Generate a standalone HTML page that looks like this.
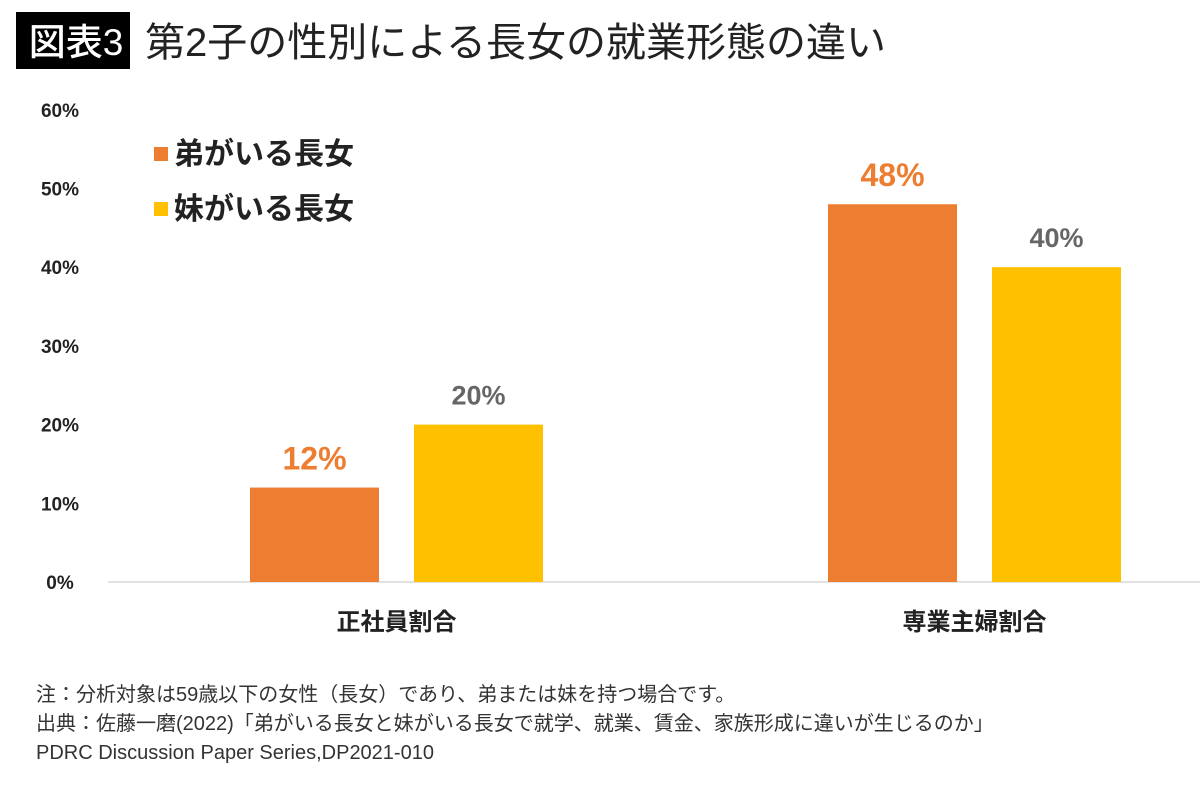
<!DOCTYPE html>
<html><head><meta charset="utf-8"><style>
body{margin:0;width:1200px;height:780px;background:#fff;overflow:hidden;font-family:"Liberation Sans","Noto Sans CJK JP",sans-serif;}
svg text{font-family:"Liberation Sans","Noto Sans CJK JP",sans-serif;}
</style></head><body>
<svg width="1200" height="780">
<rect x="16" y="12" width="114" height="57" fill="#000"/>
<text x="76" y="55" fill="#fff" font-size="37" text-anchor="middle" font-weight="500">図表3</text>
<text x="145" y="56" fill="#222" font-size="40">第2子の性別による長女の就業形態の違い</text>
<g id="yaxis"></g>
<line x1="108" y1="582" x2="1200" y2="582" stroke="#d9d9d9" stroke-width="1.5"/>
<g id="bars"></g>
<rect x="154" y="147" width="14" height="14" fill="#ED7D31"/>
<text x="174" y="164" font-size="30" font-weight="bold" fill="#222">弟がいる長女</text>
<rect x="154" y="202" width="14" height="14" fill="#FFC000"/>
<text x="174" y="219" font-size="30" font-weight="bold" fill="#222">妹がいる長女</text>
<text x="36" y="701" font-size="20" fill="#333">注：分析対象は59歳以下の女性（長女）であり、弟または妹を持つ場合です。</text>
<text x="36" y="730" font-size="20" fill="#333">出典：佐藤一磨(2022)「弟がいる長女と妹がいる長女で就学、就業、賃金、家族形成に違いが生じるのか」</text>
<text x="36" y="759" font-size="20" fill="#333">PDRC  Discussion  Paper  Series,DP2021-010</text>
</svg>
<script>
const categories=["正社員割合","専業主婦割合"];
const brotherValues=[12,48];
const sisterValues=[20,40];
const tickValues=[0,10,20,30,40,50,60];
const NS="http://www.w3.org/2000/svg";
const y0=582,pxPer=78.7/10;
function yScale(v){return y0-v*pxPer;}
const groupCenters=[396.5,974.5];
function mk(tag,attrs,parent){const e=document.createElementNS(NS,tag);for(const k in attrs)e.setAttribute(k,attrs[k]);parent.appendChild(e);return e;}
const ya=document.getElementById('yaxis');
tickValues.forEach(t=>{
 const e=mk('text',{x:60,y:yScale(t)+7,'font-size':19,'font-weight':'bold','text-anchor':'middle',fill:'#222'},ya);
 e.textContent=t+'%';
 
 
});
const bg=document.getElementById('bars');
categories.forEach((c,i)=>{
 const cx=groupCenters[i];
 const series=[[brotherValues[i],'#ED7D31',cx-146.5,'#ED7D31',32],[sisterValues[i],'#FFC000',cx+17.5,'#666',27]];
 series.forEach((s,j)=>{
  const r=mk('rect',{x:s[2],y:yScale(s[0]),width:129,height:s[0]*pxPer,fill:s[1]},bg);
  
  
  const l=mk('text',{x:s[2]+64.5,y:yScale(s[0])-(j?20:18),'font-size':s[4],'font-weight':'bold','text-anchor':'middle',fill:s[3]},bg);
  l.textContent=s[0]+'%';
  
  
 });
 const t=mk('text',{x:cx,y:630,'font-size':24,'font-weight':'bold','text-anchor':'middle',fill:'#222'},bg);
 t.textContent=c;
 
 
});
</script>
</body></html>
